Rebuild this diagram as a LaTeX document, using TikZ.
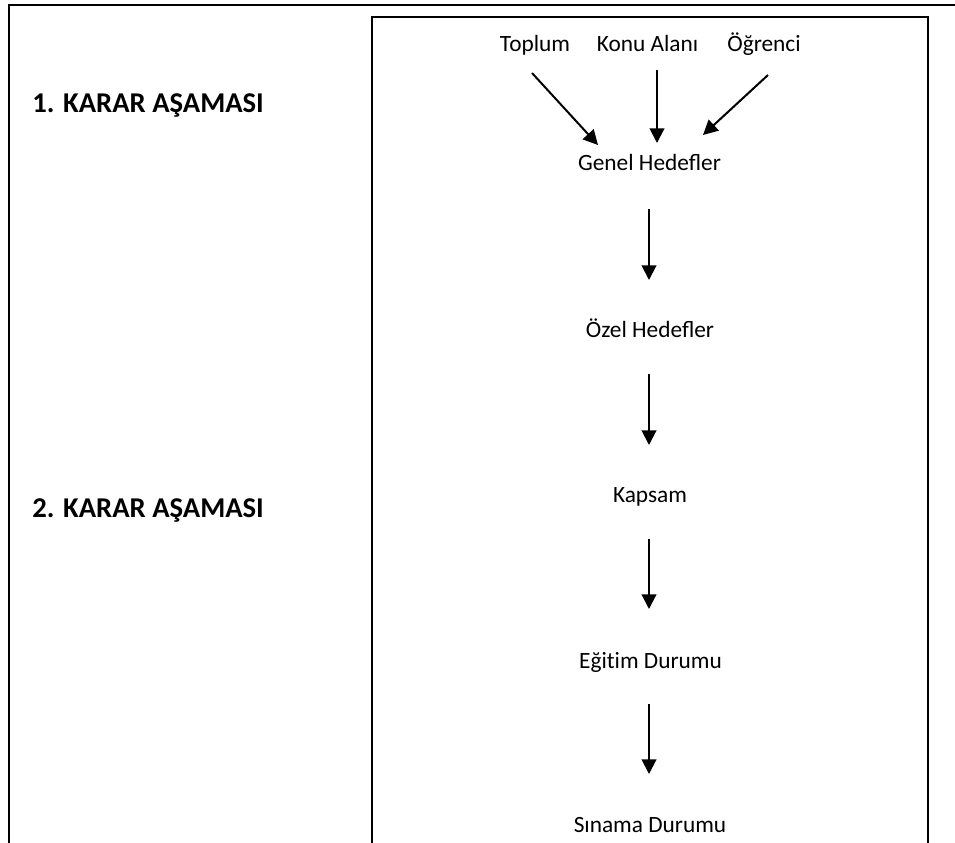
\documentclass[tikz,border=0pt]{standalone}
\usepackage{fontspec}
\setmainfont{Carlito}
\usetikzlibrary{arrows.meta}
\begin{document}
\begin{tikzpicture}[x=0.75pt,y=-0.75pt,
  frame/.style={line width=1.4pt,draw=black},
  lbl/.style={anchor=base,inner sep=0pt,font=\fontsize{17.5}{21}\selectfont},
  head/.style={anchor=base west,inner sep=0pt,font=\fontsize{21.5}{26}\selectfont\bfseries},
  arr/.style={line width=1.5pt,-{Triangle[length=11pt,width=11pt]}}]
\useasboundingbox (0,0) rectangle (955,842);
% frames
\coordinate (otl) at (9,5);
\coordinate (otr) at (956,5);
\coordinate (obl) at (9,843);
\draw[frame] (obl) -- (otl) -- (otr);
\coordinate (itl) at (372,17);
\coordinate (itr) at (928,17);
\coordinate (ibl) at (372,843);
\coordinate (ibr) at (928,843);
\draw[frame] (ibl) -- (itl) -- (itr) -- (ibr);
% headings
\node[head] (h1) at (32,112) {1. KARAR AŞAMASI};
\node[head] (h2) at (32,517) {2. KARAR AŞAMASI};
% labels
\node[lbl] (toplum) at (535,52) {Toplum};
\node[lbl] (konu) at (647.5,52) {Konu Alanı};
\node[lbl] (ogrenci) at (764,52) {Öğrenci};
\node[lbl] (genel) at (649.5,170) {Genel Hedefler};
\node[lbl] (ozel) at (650,337) {Özel Hedefler};
\node[lbl] (kapsam) at (650,502) {Kapsam};
\node[lbl] (egitim) at (650.5,668) {Eğit\kern0pt im Durumu};
\node[lbl] (sinama) at (650,832) {Sınama Durumu};
% arrow end points
\coordinate (a0ls) at (532,73);  \coordinate (a0le) at (598,145);
\coordinate (a0ms) at (657,70);  \coordinate (a0me) at (657,143);
\coordinate (a0rs) at (768,75);  \coordinate (a0re) at (703,135);
\coordinate (a1s) at (649,209);  \coordinate (a1e) at (649,280);
\coordinate (a2s) at (649,374);  \coordinate (a2e) at (649,445);
\coordinate (a3s) at (649,539);  \coordinate (a3e) at (649,609);
\coordinate (a4s) at (649,704);  \coordinate (a4e) at (649,774);
\draw[arr] (a0ls) -- (a0le);
\draw[arr] (a0ms) -- (a0me);
\draw[arr] (a0rs) -- (a0re);
\draw[arr] (a1s) -- (a1e);
\draw[arr] (a2s) -- (a2e);
\draw[arr] (a3s) -- (a3e);
\draw[arr] (a4s) -- (a4e);
\end{tikzpicture}
\end{document}
